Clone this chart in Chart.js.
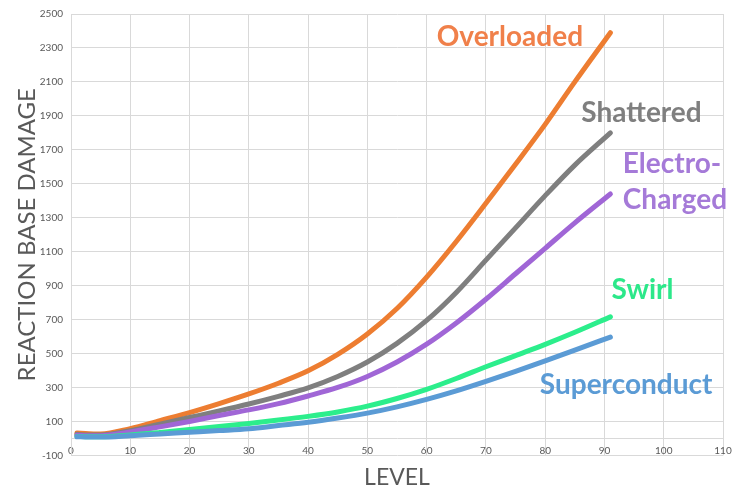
<!DOCTYPE html>
<html lang="en">
<head>
    <meta charset="UTF-8">
    <title>Reaction Base Damage</title>
    <script src="https://cdn.jsdelivr.net/npm/chart.js"></script>
    <style>
        body {
            margin: 0;
            background: white;
        }
        .chart-container {
            width: 740px;
            height: 500px;
        }
    </style>
</head>
<body>
    <div class="chart-container"><canvas id="chart"></canvas></div>

    <script>
        // values
        const levels = [1, 3, 5, 10, 15, 20, 25, 30, 35, 40, 45, 50, 55, 60, 65, 70, 75, 80, 85, 91];
        const overloaded = [32, 27, 26, 58, 105, 152, 205, 262, 325, 398, 495, 615, 765, 950, 1160, 1385, 1615, 1850, 2100, 2390];
        const shattered = [24, 20, 20, 46, 84, 123, 162, 203, 248, 298, 365, 450, 560, 695, 860, 1050, 1240, 1430, 1610, 1800];
        const electroCharged = [19, 16, 16, 38, 68, 100, 135, 168, 205, 250, 300, 365, 450, 555, 680, 820, 970, 1120, 1270, 1440];
        const swirl = [12, 10, 10, 20, 35, 52, 70, 88, 108, 130, 156, 190, 235, 289, 353, 422, 488, 554, 625, 716];
        const superconduct = [10, 8, 8, 16, 26, 36, 46, 57, 76, 95, 120, 149, 186, 230, 280, 336, 395, 457, 520, 597];

        const xTicks = [0, 10, 20, 30, 40, 50, 60, 70, 80, 90, 100, 110];
        const yTicks = [-100, 100, 300, 500, 700, 900, 1100, 1300, 1500, 1700, 1900, 2100, 2300, 2500];

        const series = [
            { name: 'Overloaded', values: overloaded, color: '#ED7D31' },
            { name: 'Shattered', values: shattered, color: '#7F7F7F' },
            { name: 'Electro-Charged', values: electroCharged, color: '#A066D6' },
            { name: 'Swirl', values: swirl, color: '#2CEE8C' },
            { name: 'Superconduct', values: superconduct, color: '#5B9BD5' }
        ];

        // text labels next to the line ends (x = level, y = damage)
        const lineLabels = [
            { text: 'Overloaded', x: 61.7, y: 2310, color: '#F0804A' },
            { text: 'Shattered', x: 86.1, y: 1862, color: '#7F7F7F' },
            { text: 'Electro-', x: 93.1, y: 1564, color: '#A57AD8' },
            { text: 'Charged', x: 93.1, y: 1352, color: '#A57AD8' },
            { text: 'Swirl', x: 91.2, y: 820, color: '#2CE88A' },
            { text: 'Superconduct', x: 79.1, y: 260, color: '#5B9BD5' }
        ];

        const lineLabelPlugin = {
            id: 'lineLabels',
            afterDatasetsDraw(chart) {
                const ctx = chart.ctx;
                const xs = chart.scales.x;
                const ys = chart.scales.y;
                ctx.save();
                ctx.font = 'bold 28px Lato';
                ctx.textAlign = 'left';
                ctx.textBaseline = 'alphabetic';
                lineLabels.forEach(l => {
                    ctx.fillStyle = l.color;
                    ctx.fillText(l.text, xs.getPixelForValue(l.x), ys.getPixelForValue(l.y));
                });
                ctx.restore();
            }
        };

        const gridColor = '#D9D9D9';
        const tickColor = '#595959';

        const ctx = document.getElementById('chart').getContext('2d');
        new Chart(ctx, {
            type: 'line',
            data: {
                datasets: series.slice().reverse().map(s => ({
                    label: s.name,
                    data: levels.map((lv, i) => ({ x: lv, y: s.values[i] })),
                    borderColor: s.color,
                    backgroundColor: s.color,
                    borderWidth: 5,
                    borderCapStyle: 'round',
                    pointRadius: 0,
                    fill: false,
                    cubicInterpolationMode: 'monotone'
                }))
            },
            options: {
                responsive: true,
                maintainAspectRatio: false,
                animation: false,
                layout: {
                    padding: { top: 9, right: 17, left: 0, bottom: 0 }
                },
                plugins: {
                    legend: { display: false },
                    tooltip: { enabled: false },
                    title: {
                        display: true,
                        position: 'bottom',
                        fullSize: false,
                        text: 'LEVEL',
                        color: tickColor,
                        font: { family: 'Lato', size: 23, weight: 'normal' },
                        padding: { top: 8, bottom: 9 }
                    }
                },
                scales: {
                    x: {
                        type: 'linear',
                        position: { y: 0 },
                        min: 0,
                        max: 110,
                        afterBuildTicks: axis => { axis.ticks = xTicks.map(v => ({ value: v })); },
                        grid: { color: gridColor, drawTicks: false },
                        border: { color: gridColor },
                        ticks: {
                            color: tickColor,
                            padding: 6,
                            font: { family: 'Lato', size: 10 },
                            callback: v => String(v)
                        }
                    },
                    y: {
                        min: -100,
                        max: 2500,
                        afterBuildTicks: axis => { axis.ticks = yTicks.map(v => ({ value: v })); },
                        afterFit: axis => { axis.width = 71; },
                        grid: { color: gridColor, drawTicks: false },
                        border: { color: gridColor },
                        ticks: {
                            color: tickColor,
                            padding: 8,
                            font: { family: 'Lato', size: 10 },
                            callback: v => String(v)
                        },
                        title: {
                            display: true,
                            text: 'REACTION BASE DAMAGE',
                            color: tickColor,
                            font: { family: 'Lato', size: 24, weight: 'normal' },
                            padding: { top: 13, bottom: 0 }
                        }
                    }
                }
            },
            plugins: [lineLabelPlugin]
        });
    </script>
</body>
</html>
